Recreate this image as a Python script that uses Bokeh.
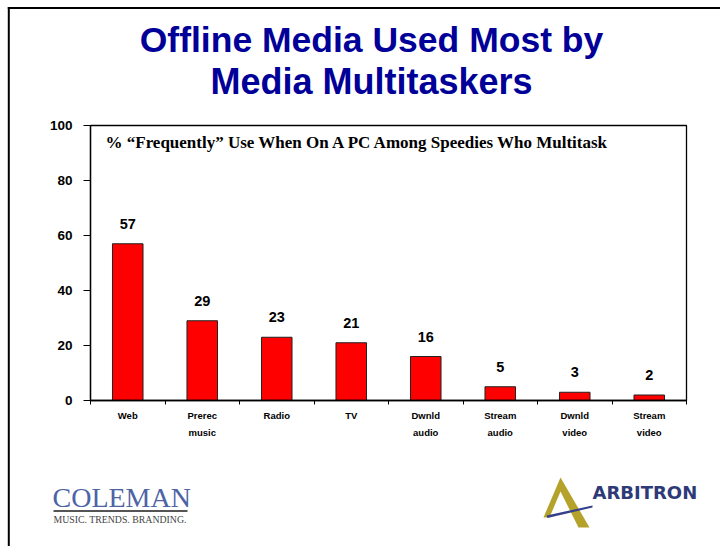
from bokeh.plotting import figure
from bokeh.models import Range1d, FixedTicker, Label, BoxAnnotation, PolyAnnotation, LinearAxis
from bokeh.embed import file_html
from bokeh.resources import INLINE
from bokeh.core.properties import value

# ---- data ----
categories = ["Web", "Prerec\nmusic", "Radio", "TV", "Dwnld\naudio",
              "Stream\naudio", "Dwnld\nvideo", "Stream\nvideo"]
values = [57, 29, 23, 21, 16, 5, 3, 2]
y_ticks = [0, 20, 40, 60, 80, 100]
title_lines = ["Offline Media Used Most by", "Media Multitaskers"]
subtitle = "% \u201cFrequently\u201d Use When On A PC Among Speedies Who Multitask"

# ---- layout (pixel coordinates of the picture) ----
W, H = 720, 546
FL, FT, FR, FB = 90, 125, 686, 400   # plot box left/top/right/bottom

SANS = "Liberation Sans"
SERIF = "Liberation Serif"

n = len(categories)
ymax = y_ticks[-1]
ux = (FR - FL) / n
uy = (FB - FT) / ymax

p = figure(width=W, height=H, output_backend="svg", toolbar_location=None,
           x_range=Range1d(-FL / ux, (W - FL) / ux),
           y_range=Range1d(-(H - FB) / uy, FB / uy),
           min_border=0, x_axis_location=None, y_axis_location=None)
p.title.visible = False
p.xgrid.visible = False
p.ygrid.visible = False
p.outline_line_color = None
p.background_fill_color = "white"
p.border_fill_color = "white"

xs = [i + 0.5 for i in range(n)]

# plot box (top/right sides)
p.add_layout(BoxAnnotation(left=0, right=n, bottom=0, top=ymax,
                           fill_color=None, line_color="black", line_alpha=1,
                           line_width=1.3))

p.vbar(x=xs, top=values, bottom=0, width=0.41,
       fill_color="#FF0000", line_color="#222222", line_width=1)

p.text(x=xs, y=values, text=[str(v) for v in values], y_offset=-20,
       text_align="center", text_baseline="middle",
       text_font=value(SANS), text_font_style="bold", text_font_size="14.5px",
       text_color="black")

# x axis
xa = LinearAxis(fixed_location=0, bounds=(0, n))
xa.ticker = FixedTicker(ticks=xs, minor_ticks=list(range(n + 1)))
xa.major_label_overrides = {x: c for x, c in zip(xs, categories)}
xa.major_tick_out = 0
xa.major_tick_in = 0
xa.minor_tick_out = 4
xa.minor_tick_in = 0
xa.minor_tick_line_color = "black"
xa.axis_line_color = "black"
xa.axis_line_width = 1.3
xa.major_label_standoff = 5
xa.major_label_text_font = SANS
xa.major_label_text_font_style = "bold"
xa.major_label_text_font_size = "9.5px"
xa.major_label_text_line_height = 1.6
xa.major_label_text_color = "black"
p.add_layout(xa, "below")

# y axis
ya = LinearAxis(fixed_location=0, bounds=(0, ymax))
ya.ticker = FixedTicker(ticks=y_ticks)
ya.major_tick_out = 7
ya.major_tick_in = 0
ya.minor_tick_out = 0
ya.minor_tick_in = 0
ya.minor_tick_line_color = None
ya.axis_line_color = "black"
ya.axis_line_width = 1.3
ya.major_label_standoff = 11
ya.major_label_text_font = SANS
ya.major_label_text_font_style = "bold"
ya.major_label_text_font_size = "13.5px"
ya.major_label_text_color = "black"
p.add_layout(ya, "left")


def lab(text, px, base, size, color, font=SANS, style="bold", align="left"):
    # 'base' is the wanted baseline in picture pixels
    fs = float(size.replace("px", ""))
    p.add_layout(Label(x=px, y=H - (base - 0.34 * fs), x_units="screen", y_units="screen",
                       text=text, text_font=font, text_font_style=style,
                       text_font_size=size, text_color=color,
                       text_align=align, text_baseline="alphabetic"))


def box(x0, x1, y0, y1, color):
    p.add_layout(BoxAnnotation(left=x0, right=x1, top=H - y0, bottom=H - y1,
                               left_units="screen", right_units="screen",
                               top_units="screen", bottom_units="screen",
                               fill_color=color, fill_alpha=1, line_color=None))


def poly(pts, color):
    p.add_layout(PolyAnnotation(xs=[a for a, b in pts], ys=[H - b for a, b in pts],
                                xs_units="screen", ys_units="screen",
                                fill_color=color, fill_alpha=1, line_color=None))


# slide border (top and left)
box(7.3, 720, 6.5, 8.5, "black")
box(7.3, 9.3, 6.5, 546, "black")

# title
lab(title_lines[0], 371, 52, "35.5px", "#000099", align="center")
lab(title_lines[1], 371, 93, "36px", "#000099", align="center")

# subtitle inside the plot box
lab(subtitle, 105, 148, "17px", "black", font=SERIF)

# Coleman logo
lab("COLEMAN", 52, 507, "28px", "#4d63a6", font=SERIF, style="normal")
box(53, 187, 509.5, 511.5, "#555555")
lab("MUSIC.  TRENDS.  BRANDING.", 53, 522.5, "9.8px", "#444444", font=SERIF, style="normal")

# Arbitron logo
poly([(543, 517), (560, 477), (589, 527), (578, 527), (560, 491), (549, 517)], "#B5A22A")
poly([(546, 515), (592, 505), (592, 507), (547, 517.5)], "#34408a")
lab("ARBITRON", 592, 498, "18px", "#2e3a78", font="DejaVu Sans")

open("out.html", "w").write(file_html(p, INLINE))
